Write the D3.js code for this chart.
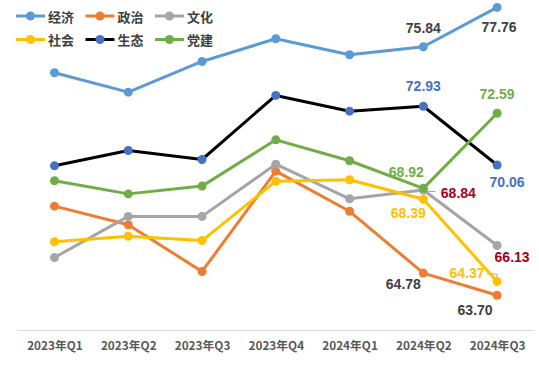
<!DOCTYPE html>
<html>
<head>
<meta charset="utf-8">
<script src="https://cdn.jsdelivr.net/npm/d3@7"></script>
<style>
  body { margin: 0; background: #fff; }
  svg { display: block; font-family: "Noto Sans CJK SC", "Liberation Sans", sans-serif; }
</style>
</head>
<body>
<svg id="chart" width="539" height="375"></svg>
<script>
const quarters = ["2023年Q1", "2023年Q2", "2023年Q3", "2023年Q4", "2024年Q1", "2024年Q2", "2024年Q3"];

const economy  = [74.57, 73.62, 75.12, 76.23, 75.45, 75.84, 77.76];
const politics = [68.05, 67.14, 64.86, 69.76, 67.80, 64.78, 63.70];
const culture  = [65.54, 67.55, 67.55, 70.10, 68.41, 68.84, 66.13];
const society  = [66.31, 66.58, 66.37, 69.27, 69.34, 68.39, 64.37];
const ecology  = [70.02, 70.77, 70.33, 73.46, 72.69, 72.93, 70.06];
const party    = [69.29, 68.65, 69.03, 71.29, 70.27, 68.92, 72.59];

const series = [
  { name: "经济", values: economy,  line: "#5B9BD5", dot: "#5B9BD5" },
  { name: "政治", values: politics, line: "#ED7D31", dot: "#ED7D31" },
  { name: "文化", values: culture,  line: "#A5A5A5", dot: "#A5A5A5" },
  { name: "社会", values: society,  line: "#FFC000", dot: "#FFC000" },
  { name: "生态", values: ecology,  line: "#000000", dot: "#4472C4" },
  { name: "党建", values: party,    line: "#70AD47", dot: "#70AD47" }
];

/* data labels: which series, which point, offset and colour */
const labels = [
  { s: 0, i: 5, dx: 0,   dy: -19, color: "#404040" },
  { s: 0, i: 6, dx: 2,   dy: 20,  color: "#404040" },
  { s: 4, i: 5, dx: 0,   dy: -20, color: "#4472C4" },
  { s: 4, i: 6, dx: 10,  dy: 17,  color: "#4472C4" },
  { s: 5, i: 6, dx: 0,   dy: -19, color: "#70AD47" },
  { s: 5, i: 5, dx: -17, dy: -16, color: "#70AD47" },
  { s: 2, i: 5, dx: 35,  dy: 3,   color: "#A50021" },
  { s: 3, i: 5, dx: -15, dy: 14,  color: "#FFC000" },
  { s: 2, i: 6, dx: 15,  dy: 12,  color: "#A50021" },
  { s: 3, i: 6, dx: -30, dy: -8,  color: "#FFC000" },
  { s: 1, i: 5, dx: -20, dy: 11,  color: "#404040" },
  { s: 1, i: 6, dx: -22, dy: 15,  color: "#404040" }
];

const svg = d3.select("#chart");

const x = d3.scalePoint()
  .domain(quarters)
  .range([17.6, 534])
  .padding(0.5);

const y = d3.scaleLinear()
  .domain([62, 78])
  .range([330, 2.5]);

/* x axis */
const xAxis = svg.append("g")
  .attr("transform", "translate(0,330)")
  .call(d3.axisBottom(x).tickSize(0).tickPadding(12));
xAxis.select(".domain").attr("stroke", "#D9D9D9").attr("stroke-width", 1).attr("d", "M17.6,0.5H534");
xAxis.selectAll("text")
  .attr("font-size", "11.8px")
  .attr("font-weight", "bold")
  .attr("fill", "#595959")
  .style("font-family", "'Noto Sans CJK SC', sans-serif");

const line = d3.line()
  .x((d, i) => x(quarters[i]))
  .y(d => y(d));

/* leader lines */
const p = (s, i) => [x(quarters[i]), y(series[s].values[i])];
svg.append("path")
  .attr("d", `M${p(2, 5)[0] + 2},${p(2, 5)[1] + 1.5}H${p(2, 5)[0] + 12}`)
  .attr("stroke", "#A5A5A5").attr("fill", "none").attr("stroke-width", 1);
svg.append("path")
  .attr("d", `M${p(3, 6)[0] - 10},${p(3, 6)[1] - 7.5}H${p(3, 6)[0]}V${p(3, 6)[1] - 1}`)
  .attr("stroke", "#A5A5A5").attr("fill", "none").attr("stroke-width", 1);

const groups = svg.selectAll("g.series")
  .data(series)
  .enter()
  .append("g")
  .attr("class", "series");

groups.append("path")
  .attr("d", d => line(d.values))
  .attr("fill", "none")
  .attr("stroke", d => d.line)
  .attr("stroke-width", 3)
  .attr("stroke-linejoin", "round");

groups.selectAll("circle")
  .data(d => d.values.map(v => ({ v, color: d.dot })))
  .enter()
  .append("circle")
  .attr("cx", (d, i) => x(quarters[i]))
  .attr("cy", d => y(d.v))
  .attr("r", 4.5)
  .attr("fill", d => d.color);

/* data labels */
svg.selectAll("text.lbl")
  .data(labels)
  .enter()
  .append("text")
  .attr("class", "lbl")
  .attr("x", d => x(quarters[d.i]) + d.dx)
  .attr("y", d => y(series[d.s].values[d.i]) + d.dy)
  .attr("text-anchor", "middle")
  .attr("dominant-baseline", "central")
  .attr("font-family", "'Liberation Sans', Arial, sans-serif")
  .attr("font-size", "14px")
  .attr("font-weight", "bold")
  .attr("fill", d => d.color)
  .text(d => series[d.s].values[d.i].toFixed(2));

/* legend */
const legend = svg.selectAll("g.legend")
  .data(series)
  .enter()
  .append("g")
  .attr("class", "legend")
  .attr("transform", (d, i) => `translate(${16 + (i % 3) * 69.5}, ${i < 3 ? 16 : 39.5})`);

legend.append("line")
  .attr("x1", 0).attr("x2", 29)
  .attr("stroke", d => d.line)
  .attr("stroke-width", 3);
legend.append("circle")
  .attr("cx", 14.5)
  .attr("r", 4.5)
  .attr("fill", d => d.dot);
legend.append("text")
  .attr("x", 32)
  .attr("dominant-baseline", "central")
  .attr("font-size", "13px")
  .attr("font-weight", "bold")
  .attr("fill", "#404040")
  .text(d => d.name);
</script>
</body>
</html>
